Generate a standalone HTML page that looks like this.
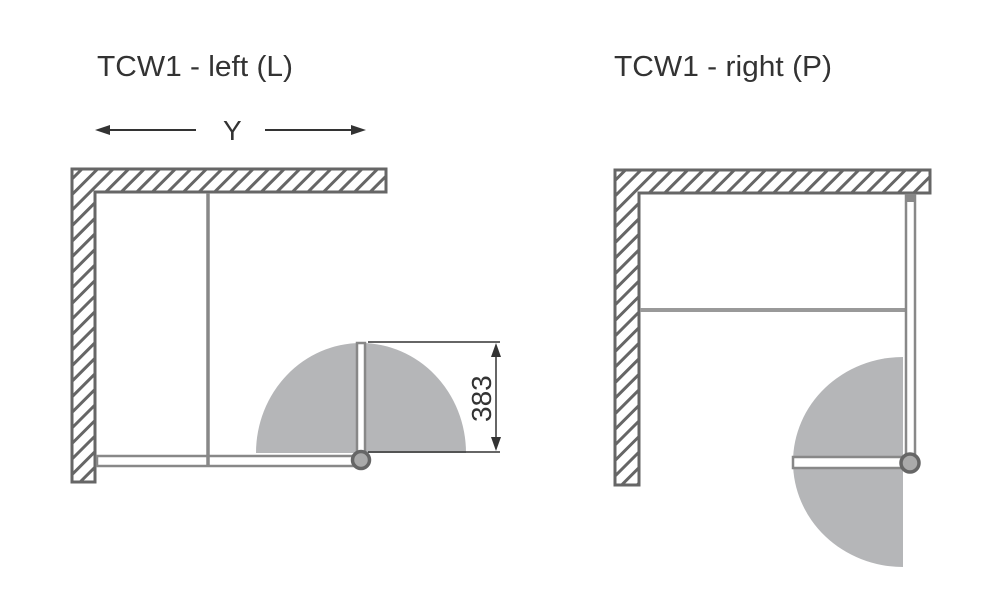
<!DOCTYPE html>
<html><head><style>body{margin:0;background:#fff}svg{display:block}</style></head><body>
<svg width="1000" height="612" viewBox="0 0 1000 612" xmlns="http://www.w3.org/2000/svg">
<defs>
<pattern id="h" patternUnits="userSpaceOnUse" width="11" height="11" patternTransform="rotate(45)">
<rect width="11" height="11" fill="#fff"/><rect x="0" y="0" width="3" height="11" fill="#666"/>
</pattern>
</defs>
<g font-family="Liberation Sans, sans-serif" fill="#333">
<text x="97" y="76" font-size="29" textLength="196" lengthAdjust="spacingAndGlyphs">TCW1 - left (L)</text>
<text x="614" y="76" font-size="29" textLength="218" lengthAdjust="spacingAndGlyphs">TCW1 - right (P)</text>
<text x="223" y="140" font-size="28">Y</text>
</g>
<g stroke="#333" stroke-width="2">
<line x1="105" y1="130" x2="196" y2="130"/><line x1="265" y1="130" x2="355" y2="130"/>
</g>
<polygon points="95,130 110,125 110,135" fill="#333"/>
<polygon points="366,130 351,125 351,135" fill="#333"/>

<!-- Left diagram -->
<path d="M72,169 H386 V192 H95 V482 H72 Z" fill="url(#h)" stroke="#666" stroke-width="3"/>
<path d="M256,453 A105,110 0 0 1 466,453 Z" fill="#b5b6b8"/>
<rect x="97" y="456" width="262" height="10" fill="#fff" stroke="#888" stroke-width="2.5"/>
<line x1="208" y1="193" x2="208" y2="466" stroke="#888" stroke-width="3.5"/>
<rect x="357" y="343" width="8" height="110" fill="#fff" stroke="#888" stroke-width="2.5"/>
<circle cx="361" cy="460" r="8.5" fill="#aaa" stroke="#666" stroke-width="3.5"/>
<g stroke="#333" stroke-width="1.5">
<line x1="368" y1="342" x2="500" y2="342"/><line x1="368" y1="452" x2="500" y2="452"/>
<line x1="496" y1="352" x2="496" y2="442"/>
</g>
<polygon points="496,343 491,357 501,357" fill="#333"/>
<polygon points="496,451 491,437 501,437" fill="#333"/>
<text x="0" y="0" font-family="Liberation Sans, sans-serif" font-size="28" fill="#333" transform="translate(491,422) rotate(-90)">383</text>

<!-- Right diagram -->
<path d="M615,170 H930 V193 H639 V485 H615 Z" fill="url(#h)" stroke="#666" stroke-width="3"/>
<path d="M903,357 A110,105 0 0 0 903,567 Z" fill="#b5b6b8"/>
<line x1="640" y1="310" x2="915" y2="310" stroke="#999" stroke-width="4"/>
<rect x="906" y="195" width="9" height="260" fill="#fff" stroke="#888" stroke-width="2.5"/>
<rect x="905" y="194" width="11" height="8" fill="#888"/>
<rect x="793" y="457" width="111" height="11" fill="#fff" stroke="#888" stroke-width="2.5"/>
<circle cx="910" cy="463" r="9" fill="#aaa" stroke="#666" stroke-width="3.5"/>
</svg>
</body></html>
